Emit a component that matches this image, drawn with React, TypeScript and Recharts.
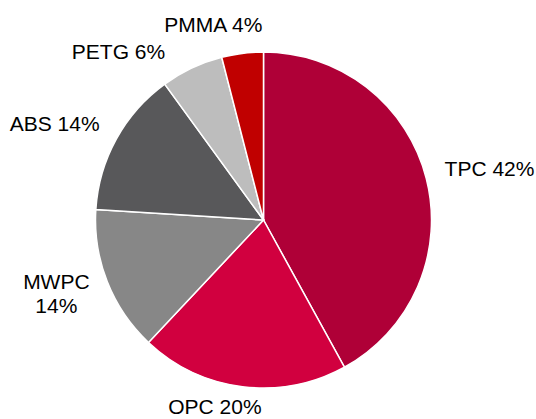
import { PieChart, Pie, Cell } from 'recharts';

const materials = ['TPC', 'OPC', 'MWPC', 'ABS', 'PETG', 'PMMA'];
const shares = [42, 20, 14, 14, 6, 4];
const sliceColors = ['#AF0037', '#D1003F', '#878787', '#58585A', '#BDBDBD', '#C00000'];

const data = materials.map((name, i) => ({ name, value: shares[i] }));

const W = 536;
const H = 419;
const FONT = "'Liberation Sans', Arial, sans-serif";
const FONT_SIZE = 21;
const CAP = 15;
const LINE = 24;

let ctx: CanvasRenderingContext2D | null = null;
function measure(text: string) {
  if (!ctx) ctx = document.createElement('canvas').getContext('2d');
  if (!ctx) return text.length * FONT_SIZE * 0.55;
  ctx.font = `${FONT_SIZE}px ${FONT}`;
  return ctx.measureText(text).width;
}

type Placed = { x: number; top: number; lines: string[]; x1: number; x2: number; y1: number; y2: number };

// angle is clockwise from 12 o'clock, in degrees
function place(cx: number, cy: number, r: number, i: number, angle: number): Placed {
  const rad = (angle * Math.PI) / 180;
  const dx = Math.sin(rad);
  const dy = -Math.cos(rad);
  const dist = r + 19;
  const ax = cx + dist * dx;
  const ay = cy + dist * dy;
  const k = Math.sign(dx) * Math.min(1, 0.35 + 1.5 * Math.abs(dx));

  let lines = [`${materials[i]} ${shares[i]}%`];
  let w = measure(lines[0]);
  let x = ax + (k * w) / 2;
  if (x - w / 2 < 0 || x + w / 2 > W) {
    lines = [materials[i], `${shares[i]}%`];
    w = Math.max(...lines.map(measure));
    x = ax + (k * w) / 2;
  }
  const h = CAP + (lines.length - 1) * LINE;
  let top = ay + (dy * h) / 2 - h / 2 - 3;
  if (top + h + 5 > H) top = H - 5 - h;
  return { x, top, lines, x1: x - w / 2 - 3, x2: x + w / 2 + 3, y1: top - 6, y2: top + h + 6 };
}

const overlaps = (a: Placed, b: Placed) => a.x1 < b.x2 && b.x1 < a.x2 && a.y1 < b.y2 && b.y1 < a.y2;

const layoutCache = new Map<string, Placed[]>();
function layout(cx: number, cy: number, r: number) {
  const key = `${cx},${cy},${r}`;
  const hit = layoutCache.get(key);
  if (hit) return hit;
  const total = shares.reduce((s, v) => s + v, 0);
  let acc = 0;
  const angles = shares.map((v) => {
    const mid = ((acc + v / 2) / total) * 360;
    acc += v;
    return mid;
  });
  const n = shares.length;
  const placed = angles.map((a, i) => place(cx, cy, r, i, a));
  // slide a label back along the circle while it bumps into the next one
  for (let i = 0; i < n; i++) {
    const j = (i + 1) % n;
    let steps = 0;
    while (overlaps(placed[i], placed[j]) && steps < 120) {
      angles[i] -= 0.5;
      placed[i] = place(cx, cy, r, i, angles[i]);
      steps++;
    }
  }
  layoutCache.set(key, placed);
  return placed;
}

function renderLabel(props: any) {
  const { cx, cy, outerRadius, index } = props;
  const p = layout(cx, cy, outerRadius)[index];
  return (
    <text textAnchor="middle" fontSize={FONT_SIZE} fontFamily={FONT} fill="#000">
      {p.lines.map((l, i) => (
        <tspan key={i} x={p.x} y={p.top + CAP + i * LINE}>
          {l}
        </tspan>
      ))}
    </text>
  );
}

export default function App() {
  return (
    <div style={{ position: 'absolute', left: 0, top: 0, background: '#fff' }}>
      <PieChart width={W} height={H} margin={{ top: 0, right: 0, bottom: 0, left: 0 }}>
        <Pie
          data={data}
          dataKey="value"
          nameKey="name"
          cx={263.5}
          cy={220}
          outerRadius={168}
          startAngle={90}
          endAngle={-270}
          stroke="#fff"
          strokeWidth={1.5}
          labelLine={false}
          label={renderLabel}
          isAnimationActive={false}
        >
          {data.map((d, i) => (
            <Cell key={d.name} fill={sliceColors[i]} />
          ))}
        </Pie>
      </PieChart>
    </div>
  );
}
